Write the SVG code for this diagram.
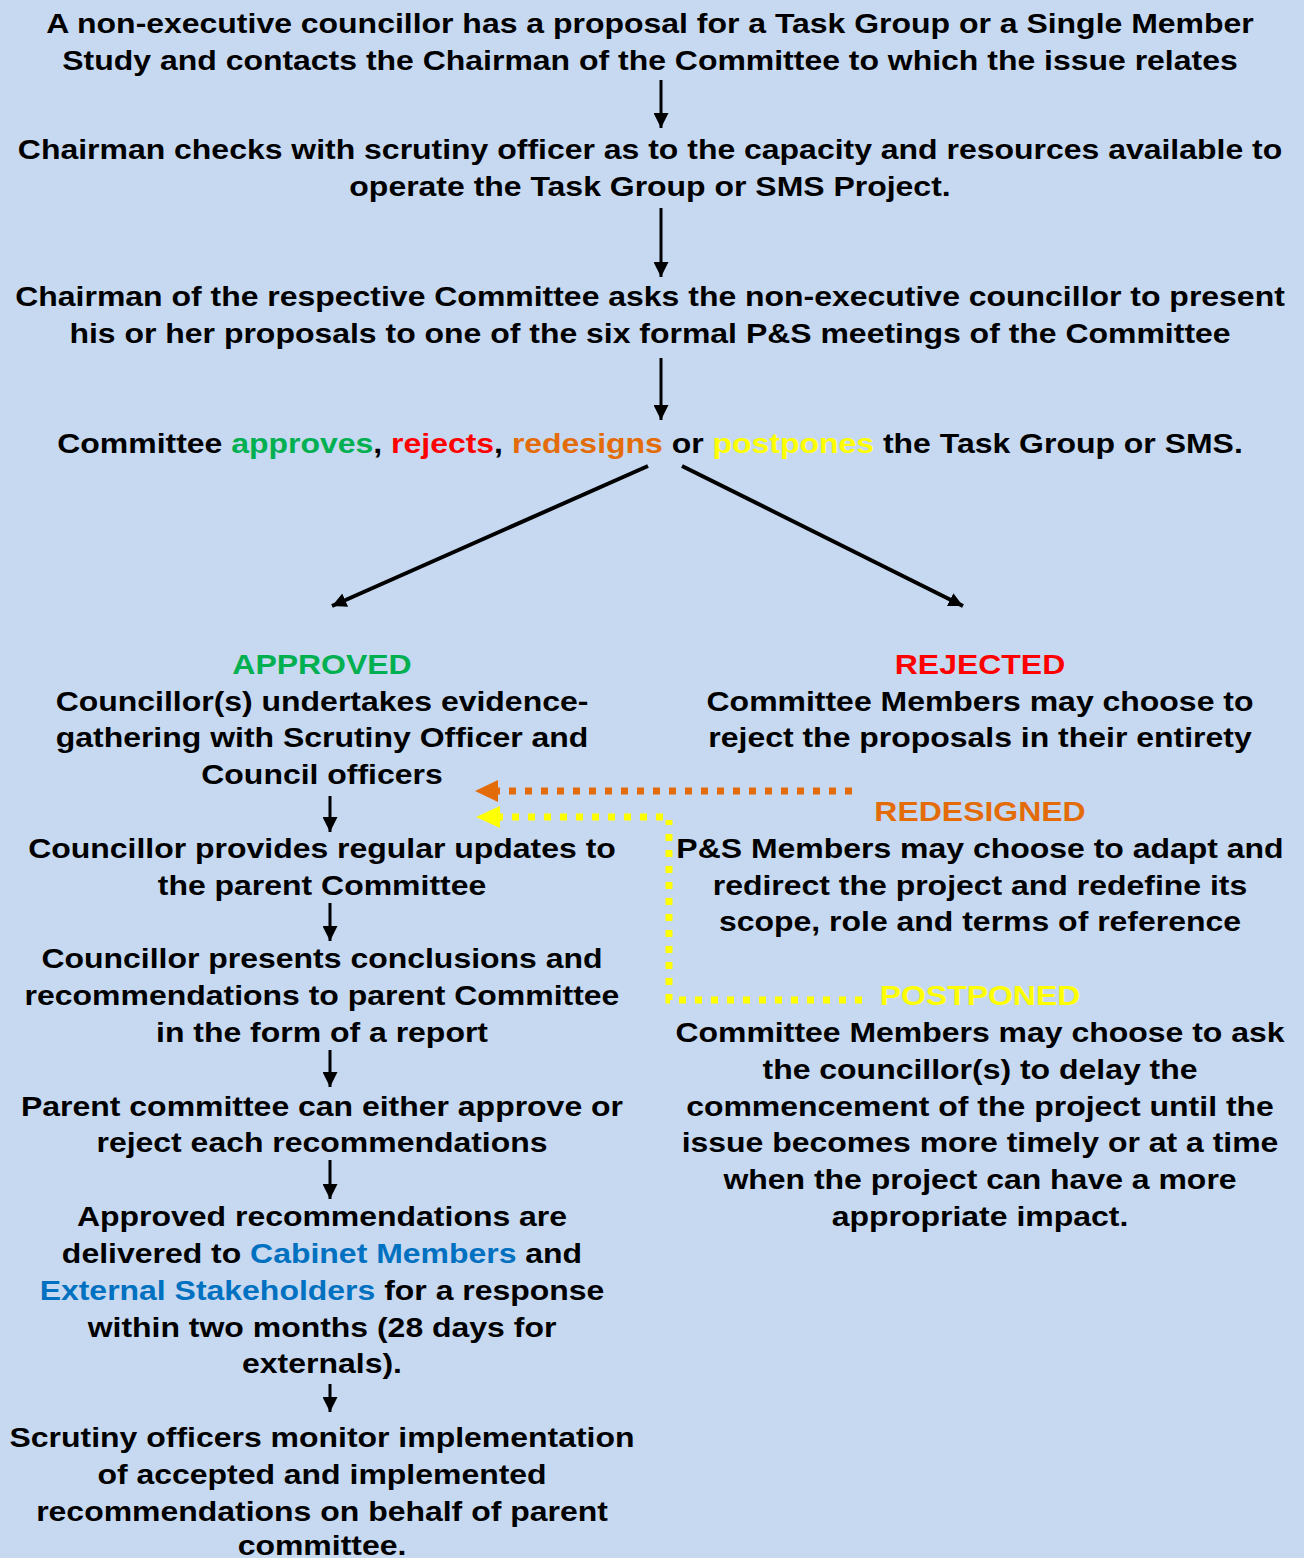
<svg xmlns="http://www.w3.org/2000/svg" width="1304" height="1558" viewBox="0 0 1304 1558">
<style>
text{font-family:"Liberation Sans",Arial,sans-serif;font-weight:bold;font-size:28.5px;fill:#000;text-anchor:middle}
.g{fill:#00B050}.r{fill:#FF0000}.o{fill:#E36C09}.y{fill:#FFFF00}.b{fill:#0070C0}
.ln{stroke:#000;stroke-width:3;fill:none}
.dg{stroke:#000;stroke-width:4;fill:none}
.od{stroke:#E36C09;stroke-width:7;stroke-dasharray:7 9;fill:none}
.yd{stroke:#FFFF00;stroke-width:7;stroke-dasharray:7 9;fill:none}
</style>
<defs>
<marker id="ah" viewBox="0 0 10 10" refX="10" refY="5" markerWidth="5" markerHeight="5" orient="auto" markerUnits="strokeWidth"><path d="M0,0L10,5L0,10z" fill="#000"/></marker>
<marker id="ah2" viewBox="0 0 10 10" refX="10" refY="5" markerWidth="3.6" markerHeight="3.6" orient="auto" markerUnits="strokeWidth"><path d="M0,0L10,5L0,10z" fill="#000"/></marker>
</defs>
<rect width="1304" height="1558" fill="#C6D9F1"/>
<g id="connectors">
<line class="ln" x1="661" y1="80" x2="661" y2="128" marker-end="url(#ah)"/>
<line class="ln" x1="661" y1="208" x2="661" y2="277" marker-end="url(#ah)"/>
<line class="ln" x1="661" y1="358" x2="661" y2="420" marker-end="url(#ah)"/>
<line class="dg" x1="648" y1="466" x2="332" y2="606" marker-end="url(#ah2)"/>
<line class="dg" x1="682" y1="466" x2="963" y2="606" marker-end="url(#ah2)"/>
<line class="ln" x1="330" y1="796" x2="330" y2="832" marker-end="url(#ah)"/>
<line class="ln" x1="330" y1="903" x2="330" y2="941" marker-end="url(#ah)"/>
<line class="ln" x1="330" y1="1050" x2="330" y2="1087" marker-end="url(#ah)"/>
<line class="ln" x1="330" y1="1160" x2="330" y2="1199" marker-end="url(#ah)"/>
<line class="ln" x1="330" y1="1384" x2="330" y2="1412" marker-end="url(#ah)"/>
<line class="od" x1="852" y1="791" x2="498" y2="791"/>
<path d="M475,791L498,780L498,802z" fill="#E36C09"/>
<path class="yd" d="M862,1000H669V820"/>
<line class="yd" x1="663" y1="817" x2="500" y2="817"/>
<path d="M476,817L500,806L500,828z" fill="#FFFF00"/>
</g>
<g id="n1" transform="translate(650 0) scale(1.122 1)">
<text x="0" y="33">A non-executive councillor has a proposal for a Task Group or a Single Member</text>
<text x="0" y="70">Study and contacts the Chairman of the Committee to which the issue relates</text>
</g>
<g id="n2" transform="translate(650 0) scale(1.122 1)">
<text x="0" y="159">Chairman checks with scrutiny officer as to the capacity and resources available to</text>
<text x="0" y="196">operate the Task Group or SMS Project.</text>
</g>
<g id="n3" transform="translate(650 0) scale(1.122 1)">
<text x="0" y="306">Chairman of the respective Committee asks the non-executive councillor to present</text>
<text x="0" y="343">his or her proposals to one of the six formal P&amp;S meetings of the Committee</text>
</g>
<g id="n4" transform="translate(650 0) scale(1.122 1)">
<text x="0" y="453">Committee <tspan class="g">approves</tspan>, <tspan class="r">rejects</tspan>, <tspan class="o">redesigns</tspan> or <tspan class="y">postpones</tspan> the Task Group or SMS.</text>
</g>
<g id="approved" transform="translate(322 0) scale(1.122 1)">
<text x="0" y="674" class="g">APPROVED</text>
<text x="0" y="711">Councillor(s) undertakes evidence-</text>
<text x="0" y="747">gathering with Scrutiny Officer and</text>
<text x="0" y="784">Council officers</text>
</g>
<g id="rejected" transform="translate(980 0) scale(1.122 1)">
<text x="0" y="674" class="r">REJECTED</text>
<text x="0" y="711">Committee Members may choose to</text>
<text x="0" y="747">reject the proposals in their entirety</text>
</g>
<g id="redesigned" transform="translate(980 0) scale(1.122 1)">
<text x="0" y="821" class="o">REDESIGNED</text>
<text x="0" y="858">P&amp;S Members may choose to adapt and</text>
<text x="0" y="895">redirect the project and redefine its</text>
<text x="0" y="931">scope, role and terms of reference</text>
</g>
<g id="postponed" transform="translate(980 0) scale(1.122 1)">
<text x="0" y="1005" class="y">POSTPONED</text>
<text x="0" y="1042">Committee Members may choose to ask</text>
<text x="0" y="1079">the councillor(s) to delay the</text>
<text x="0" y="1116">commencement of the project until the</text>
<text x="0" y="1152">issue becomes more timely or at a time</text>
<text x="0" y="1189">when the project can have a more</text>
<text x="0" y="1226">appropriate impact.</text>
</g>
<g id="updates" transform="translate(322 0) scale(1.122 1)">
<text x="0" y="858">Councillor provides regular updates to</text>
<text x="0" y="895">the parent Committee</text>
</g>
<g id="conclusions" transform="translate(322 0) scale(1.122 1)">
<text x="0" y="968">Councillor presents conclusions and</text>
<text x="0" y="1005">recommendations to parent Committee</text>
<text x="0" y="1042">in the form of a report</text>
</g>
<g id="parent" transform="translate(322 0) scale(1.122 1)">
<text x="0" y="1116">Parent committee can either approve or</text>
<text x="0" y="1152">reject each recommendations</text>
</g>
<g id="delivered" transform="translate(322 0) scale(1.122 1)">
<text x="0" y="1226">Approved recommendations are</text>
<text x="0" y="1263">delivered to <tspan class="b">Cabinet Members</tspan> and</text>
<text x="0" y="1300"><tspan class="b">External Stakeholders</tspan> for a response</text>
<text x="0" y="1337">within two months (28 days for</text>
<text x="0" y="1373">externals).</text>
</g>
<g id="monitor" transform="translate(322 0) scale(1.122 1)">
<text x="0" y="1447">Scrutiny officers monitor implementation</text>
<text x="0" y="1484">of accepted and implemented</text>
<text x="0" y="1521">recommendations on behalf of parent</text>
<text x="0" y="1555">committee.</text>
</g>
</svg>
